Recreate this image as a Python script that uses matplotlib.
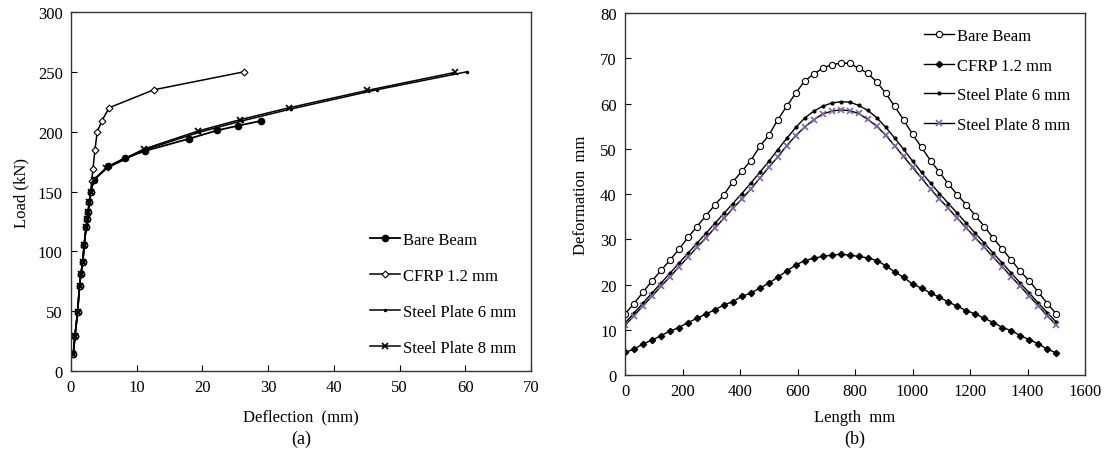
import numpy as np
import matplotlib.pyplot as plt

plt.rcParams['font.family'] = ['Liberation Serif', 'DejaVu Serif']
plt.rcParams['font.size'] = 12

# (a) load-deflection curves
bare_defl = [0.35, 0.6, 1.0, 1.3, 1.5, 1.8, 2.0, 2.3, 2.5, 2.6, 2.8, 3.0, 3.5, 5.7, 8.2, 11.3, 17.9, 22.2, 25.4, 28.9]
bare_load = [14, 29, 49, 71, 81, 91, 105, 120, 127, 133, 141, 150, 160, 171, 178, 184, 194, 201, 205, 209]

cfrp_defl = [0.35, 0.6, 1.0, 1.3, 1.5, 1.8, 2.0, 2.3, 2.5, 2.6, 2.8, 3.0, 3.15, 3.35, 3.65, 4.0, 4.7, 5.8, 12.6, 26.3]
cfrp_load = [14, 29, 49, 71, 81, 91, 105, 120, 127, 133, 141, 150, 159, 169, 185, 200, 209, 220, 235, 250]

sp6_defl = [0.35, 0.6, 1.0, 1.3, 1.5, 1.8, 2.0, 2.3, 2.5, 2.6, 2.8, 3.0, 3.5, 5.6, 11.3, 19.5, 26.0, 33.5, 46.5, 60.2]
sp6_load = [14, 29, 49, 71, 81, 91, 105, 120, 127, 133, 141, 150, 160, 170, 185, 199.5, 209, 219, 235, 250]

sp8_defl = [0.35, 0.6, 1.0, 1.3, 1.5, 1.8, 2.0, 2.3, 2.5, 2.6, 2.8, 3.0, 3.5, 5.4, 11.1, 19.3, 25.7, 33.2, 45.1, 58.4]
sp8_load = [14, 29, 49, 71, 81, 91, 105, 120, 127, 133, 141, 150, 160, 170, 185.5, 200.5, 210, 220, 234.5, 249.5]

# (b) deformation along the beam length (31.25 mm spacing)
length = np.arange(49) * 31.25
bare_def = [13.5, 15.8, 18.3, 20.8, 23.1, 25.4, 27.8, 30.4, 32.8, 35.2, 37.6, 39.8, 42.7, 45.0, 47.4, 50.5,
            53.0, 56.4, 59.4, 62.3, 65.0, 66.5, 67.8, 68.6, 68.9,
            68.9, 67.8, 66.7, 64.8, 62.3, 59.4, 56.4, 53.2, 50.3, 47.4, 44.8, 42.2, 39.8, 37.6, 35.2, 32.8,
            30.2, 27.8, 25.4, 22.9, 20.8, 18.3, 15.8, 13.5]
cfrp_def = [5.0, 5.7, 6.9, 7.7, 8.7, 9.7, 10.5, 11.6, 12.5, 13.5, 14.4, 15.5, 16.2, 17.4, 18.1, 19.2,
            20.3, 21.6, 23.0, 24.3, 25.3, 25.8, 26.2, 26.5, 26.7,
            26.5, 26.2, 25.9, 25.3, 24.2, 22.8, 21.6, 20.1, 19.2, 18.1, 17.2, 16.1, 15.2, 14.2, 13.5, 12.5,
            11.6, 10.5, 9.8, 8.7, 7.8, 6.9, 5.7, 4.9]
sp6_def = [11.5, 13.7, 15.9, 18.1, 20.3, 22.5, 24.7, 26.9, 29.1, 31.3, 33.5, 35.7, 37.9, 40.1, 42.4, 44.8,
           47.2, 49.8, 52.3, 54.7, 56.8, 58.3, 59.4, 60.1, 60.4,
           60.3, 59.6, 58.5, 56.9, 54.8, 52.4, 49.9, 47.3, 44.8, 42.4, 40.1, 37.9, 35.7, 33.5, 31.3, 29.1,
           26.9, 24.7, 22.5, 20.3, 18.1, 15.9, 13.8, 11.7]
sp8_def = [11.0, 13.1, 15.3, 17.4, 19.6, 21.7, 23.9, 26.0, 28.2, 30.3, 32.5, 34.6, 36.8, 38.9, 41.1, 43.5,
           45.9, 48.2, 50.7, 52.9, 54.8, 56.4, 57.7, 58.3, 58.6,
           58.4, 57.8, 56.5, 55.0, 53.0, 50.7, 48.3, 45.9, 43.5, 41.1, 38.9, 36.8, 34.6, 32.5, 30.3, 28.2,
           26.0, 23.9, 21.7, 19.6, 17.4, 15.3, 13.1, 11.0]

labels = ['Bare Beam', 'CFRP 1.2 mm', 'Steel Plate 6 mm', 'Steel Plate 8 mm']
purple = '#8064A2'

fig = plt.figure(figsize=(11.09, 4.56), dpi=100)
ax1 = fig.add_axes([0.064, 0.184, 0.4148, 0.7875])
ax2 = fig.add_axes([0.5636, 0.1754, 0.4148, 0.7939])

ax1.plot(bare_defl, bare_load, '-o', color='k', lw=1.3, ms=4.5, label=labels[0])
ax1.plot(cfrp_defl, cfrp_load, '-D', color='k', mfc='white', lw=1.1, ms=3.5, mew=0.8, label=labels[1])
ax1.plot(sp6_defl, sp6_load, '-o', color='k', lw=1.1, ms=1.5, label=labels[2])
ax1.plot(sp8_defl, sp8_load, '-x', color='k', lw=1.1, ms=5, mew=1.2, label=labels[3])
ax1.set_xlim(0, 70)
ax1.set_ylim(0, 300)
ax1.set_xticks(np.arange(0, 71, 10))
ax1.set_yticks(np.arange(0, 301, 50))
ax1.set_xlabel('Deflection  (mm)', labelpad=9)
ax1.set_ylabel('Load (kN)', labelpad=6)
ax1.legend(loc='lower right', bbox_to_anchor=(1.0, 0.0), frameon=False, handlelength=1.8,
           handletextpad=0.15, labelspacing=1.2, fontsize=12)

ax2.plot(length, bare_def, '-o', color='k', lw=1.0, ms=4.5, mfc='white', mew=0.8, label=labels[0])
ax2.plot(length, cfrp_def, '-D', color='k', lw=1.0, ms=3.2, label=labels[1])
ax2.plot(length, sp6_def, '-o', color='k', lw=1.0, ms=2.0, label=labels[2])
ax2.plot(length, sp8_def, '-x', color='k', mec=purple, lw=1.0, ms=5, mew=1.2, label=labels[3])
ax2.set_xlim(0, 1600)
ax2.set_ylim(0, 80)
ax2.set_xticks(np.arange(0, 1601, 200))
ax2.set_yticks(np.arange(0, 81, 10))
ax2.set_xlabel('Length  mm', labelpad=7)
ax2.set_ylabel('Deformation  mm', labelpad=8)
ax2.legend(loc='upper right', bbox_to_anchor=(1.0, 1.0), frameon=False, handlelength=1.8,
           handletextpad=0.15, labelspacing=0.82, fontsize=12)

for ax in (ax1, ax2):
    ax.tick_params(direction='in', length=4, width=0.8, labelsize=12, pad=6)
    for s in ax.spines.values():
        s.set_linewidth(1.0)
        s.set_color('#333333')

fig.text(0.2714, 0.027, '(a)', ha='center', fontsize=13)
fig.text(0.771, 0.027, '(b)', ha='center', fontsize=13)

fig.savefig('out.png', dpi=100)
